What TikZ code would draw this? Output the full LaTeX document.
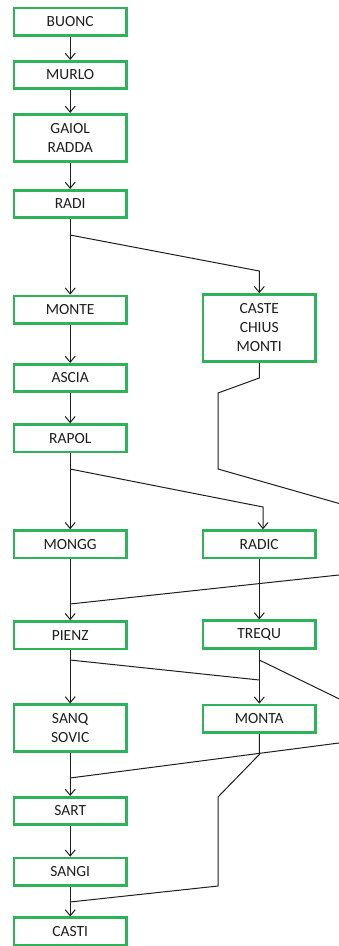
\documentclass[tikz,border=0pt]{standalone}
\usepackage{fontspec}
\setmainfont{Carlito}
\usetikzlibrary{arrows.meta}
\definecolor{boxgreen}{RGB}{46,178,90}
\definecolor{ink}{RGB}{30,30,30}
\begin{document}
\begin{tikzpicture}[x=1pt,y=-1pt,
  box/.style={draw=boxgreen,line width=2.6pt,fill=white,minimum width=112.5pt,
    minimum height=27.5pt,inner sep=0pt,align=center,text=ink,
    font=\fontsize{15.5}{19}\selectfont},
  two/.style={box,minimum height=47pt},
  three/.style={box,minimum height=67pt},
  conn/.style={draw=ink,line width=1pt},
  arr/.style={conn,-{Straight Barb[length=6pt,width=10pt]}}]
\useasboundingbox (0,0) rectangle (339,946);
\begin{scope}
\clip (0,0) rectangle (339,946);
% left column
\node[box] (buonc) at (70.2,21.7) {BUONC};
\node[box] (murlo) at (70.2,75) {MURLO};
\node[two] (gaiol) at (70.2,137.7) {GAIOL\\RADDA};
\node[box] (radi) at (70.2,204) {RADI};
\node[box] (monte) at (70.2,309.7) {MONTE};
\node[box] (ascia) at (70.2,378) {ASCIA};
\node[box] (rapol) at (70.2,438.3) {RAPOL};
\node[box] (mongg) at (70.2,544.3) {MONGG};
\node[box] (pienz) at (70.2,635.3) {PIENZ};
\node[two] (sanq) at (70.2,728.2) {SANQ\\SOVIC};
\node[box] (sart) at (70.2,811) {SART};
\node[box] (sangi) at (70.2,871.7) {SANGI};
\node[box] (casti) at (70.2,931.5) {CASTI};
% right column
\node[three] (caste) at (259.2,328) {CASTE\\CHIUS\\MONTI};
\node[box] (radic) at (259.2,544.3) {RADIC};
\node[box] (trequ) at (259.2,634.5) {TREQU};
\node[box] (monta) at (259.2,718.7) {MONTA};
% junction coordinates
\coordinate (j1) at (70,235);
\coordinate (j1b) at (259.3,271);
\coordinate (c1) at (259.3,378);
\coordinate (c2) at (218,393);
\coordinate (c3) at (218,469);
\coordinate (c4) at (362,510);
\coordinate (c5) at (362,572.5);
\coordinate (j3) at (70,604);
\coordinate (j2) at (70,469);
\coordinate (j2b) at (263,507);
\coordinate (j4) at (70,660);
\coordinate (j4b) at (259.3,680);
\coordinate (t1) at (259.3,660);
\coordinate (t2) at (362,710);
\coordinate (t3) at (362,740);
\coordinate (j5) at (70,778);
\coordinate (m1) at (259.3,754.5);
\coordinate (m2) at (218,797);
\coordinate (m3) at (218,886);
\coordinate (j6) at (70,902);
\end{scope}
% straight arrows
\draw[arr] (buonc) -- (murlo);
\draw[arr] (murlo) -- (gaiol);
\draw[arr] (gaiol) -- (radi);
\draw[arr] (radi) -- (monte);
\draw[arr] (monte) -- (ascia);
\draw[arr] (ascia) -- (rapol);
\draw[arr] (rapol) -- (mongg);
\draw[arr] (mongg) -- (pienz);
\draw[arr] (pienz) -- (sanq);
\draw[arr] (sanq) -- (sart);
\draw[arr] (sart) -- (sangi);
\draw[arr] (sangi) -- (casti);
\draw[arr] (radic.south -| j4b) -- (trequ.north -| j4b);
\draw[arr] (trequ.south -| j4b) -- (monta.north -| j4b);
% branches
\begin{scope}
\clip (0,0) rectangle (339,946);
\draw[arr] (j1) -- (j1b) -- (caste.north -| j1b);
\draw[arr] (j2) -- (j2b) -- (radic.north -| j2b);
\draw[conn] (caste.south -| c1) -- (c1) -- (c2) -- (c3) -- (c4) -- (c5) -- (j3);
\draw[conn] (j4) -- (j4b);
\draw[conn] (t1) -- (t2) -- (t3) -- (j5);
\draw[conn] (monta.south -| m1) -- (m1) -- (m2) -- (m3) -- (j6);
\end{scope}
\end{tikzpicture}
\end{document}
